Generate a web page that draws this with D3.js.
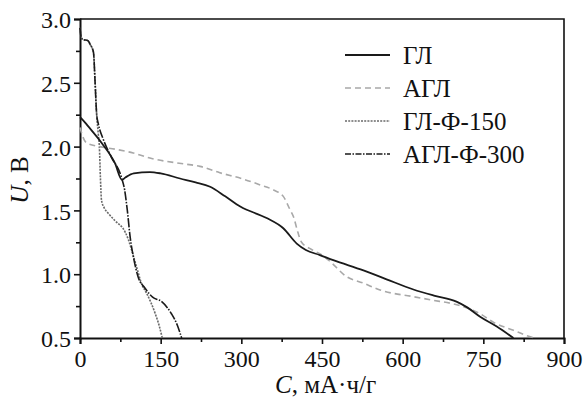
<!DOCTYPE html>
<html>
<head>
<meta charset="utf-8">
<script src="https://cdn.jsdelivr.net/npm/d3@7"></script>
<style>
  body { margin: 0; background: #fff; }
</style>
</head>
<body>
<div id="chart"></div>
<script>
// discharge curves: [C, mAh/g ; U, V]
const glData = [[0, 2.23], [5, 2.21], [15, 2.16], [40, 2.03], [65, 1.87], [78, 1.74], [85, 1.76], [100, 1.79],
  [130, 1.80], [150, 1.79], [186, 1.75], [215, 1.72], [242, 1.685], [270, 1.61], [298, 1.53], [347, 1.44],
  [378, 1.36], [403, 1.24], [420, 1.19], [446, 1.15], [471, 1.11], [527, 1.03], [570, 0.96], [620, 0.88],
  [660, 0.83], [700, 0.785], [720, 0.74], [744, 0.667], [775, 0.59], [806, 0.5]];
const aglData = [[0, 2.15], [5, 2.08], [12, 2.03], [37, 2.0], [65, 1.98], [99, 1.95], [130, 1.91], [192, 1.865],
  [223, 1.845], [260, 1.795], [300, 1.75], [335, 1.70], [360, 1.66], [378, 1.61], [390, 1.51], [397, 1.45],
  [405, 1.33], [412, 1.25], [428, 1.20], [450, 1.15], [465, 1.10], [496, 0.98], [527, 0.93], [558, 0.876],
  [620, 0.824], [651, 0.80], [713, 0.745], [744, 0.69], [770, 0.62], [806, 0.56], [830, 0.52], [845, 0.5]];
const glF150Data = [[0, 2.93], [2, 2.86], [5, 2.84], [15, 2.83], [19, 2.80], [25, 2.74], [28, 2.51], [31, 2.25],
  [34, 2.10], [36, 2.0], [38, 1.75], [40, 1.58], [45, 1.52], [52, 1.48], [65, 1.42], [84, 1.33], [90, 1.27],
  [96, 1.19], [105, 1.06], [115, 0.92], [124, 0.85], [140, 0.69], [147, 0.6], [153, 0.5]];
const aglF300Data = [[0, 2.93], [2, 2.86], [5, 2.84], [15, 2.83], [19, 2.80], [25, 2.74], [28, 2.51], [31, 2.25],
  [34, 2.18], [43, 2.06], [58, 1.92], [77, 1.76], [83, 1.66], [88, 1.50], [93, 1.30], [100, 1.12], [108, 0.98],
  [121, 0.89], [135, 0.82], [152, 0.785], [170, 0.69], [181, 0.6], [189, 0.5]];

const seriesNames = ['ГЛ', 'АГЛ', 'ГЛ-Ф-150', 'АГЛ-Ф-300'];
const xTicks = [0, 150, 300, 450, 600, 750, 900];
const yTicks = [0.5, 1.0, 1.5, 2.0, 2.5, 3.0];

const FONT = '"Liberation Serif", "Times New Roman"';
const width = 587, height = 401;
const margin = {top: 19, right: 23, bottom: 63, left: 80};

const svg = d3.select('#chart').append('svg')
  .attr('width', width)
  .attr('height', height)
  .attr('font-family', FONT);

const x = d3.scaleLinear().domain([0, 900]).range([margin.left, width - margin.right]);
const y = d3.scaleLinear().domain([0.5, 3.0]).range([height - margin.bottom, margin.top]);

// frame top / right
svg.append('path')
  .attr('d', `M${x(0)},${y(3)}H${x(900)}V${y(0.5)}`)
  .attr('fill', 'none')
  .attr('stroke', '#111')
  .attr('stroke-width', 1.6);

// minor ticks
const xMinor = d3.range(75, 900, 150);
const yMinor = d3.range(0.75, 3.0, 0.5);

svg.append('g')
  .attr('transform', `translate(0,${y(0.5)})`)
  .call(d3.axisBottom(x).tickValues(xTicks).tickFormat(d3.format('d')).tickSize(6).tickPadding(6));
svg.append('g')
  .attr('transform', `translate(0,${y(0.5)})`)
  .call(d3.axisBottom(x).tickValues(xMinor).tickFormat('').tickSize(4))
  .call(g => g.select('.domain').remove());

const yAxis = svg.append('g')
  .attr('transform', `translate(${x(0)},0)`)
  .call(d3.axisLeft(y).tickValues(yTicks).tickFormat(d3.format('.1f')).tickSize(6).tickPadding(3));
svg.append('g')
  .attr('transform', `translate(${x(0)},0)`)
  .call(d3.axisLeft(y).tickValues(yMinor).tickFormat('').tickSize(4))
  .call(g => g.select('.domain').remove());

svg.selectAll('g').attr('font-family', FONT);
svg.selectAll('.domain').attr('stroke', '#111').attr('stroke-width', 2);
svg.selectAll('.tick line').attr('stroke', '#111').attr('stroke-width', 1.6);
svg.selectAll('.tick text')
  .style('font-family', FONT)
  .style('font-size', '24px')
  .attr('fill', '#111');
yAxis.selectAll('.tick text').attr('dy', '0.36em');

// curves
const line = d3.line()
  .x(d => x(d[0]))
  .y(d => y(d[1]))
  .curve(d3.curveMonotoneX);

const styles = [
  {data: glData, color: '#1a1a1a', width: 1.8, dash: null},
  {data: aglData, color: '#a8a8a8', width: 1.6, dash: '6,4'},
  {data: glF150Data, color: '#6a6a6a', width: 1.6, dash: '2,1.2'},
  {data: aglF300Data, color: '#1a1a1a', width: 1.6, dash: '9,1.5,1.5,1.5'}
];

// draw short curves first, long ones on top
[2, 3, 1, 0].forEach(i => {
  const s = styles[i];
  svg.append('path')
    .datum(s.data)
    .attr('fill', 'none')
    .attr('stroke', s.color)
    .attr('stroke-width', s.width)
    .attr('stroke-dasharray', s.dash)
    .attr('d', line);
});

// legend
const legend = svg.append('g').attr('transform', 'translate(345,55)');
seriesNames.forEach((name, i) => {
  const s = styles[i];
  const row = legend.append('g').attr('transform', `translate(0,${i * 33})`);
  row.append('line')
    .attr('x1', 0).attr('x2', 45)
    .attr('stroke', s.color)
    .attr('stroke-width', s.width)
    .attr('stroke-dasharray', i === 3 ? '6,1.5,1.5,1.5' : s.dash);
  row.append('text')
    .attr('x', 58)
    .attr('dy', '0.35em')
    .attr('fill', '#111')
    .style('font-family', FONT)
    .style('font-size', '25px')
    .text(name);
});

// axis titles
svg.append('text')
  .attr('x', 275)
  .attr('y', 393)
  .attr('fill', '#111')
  .style('font-family', FONT)
  .style('font-size', '25px')
  .html('<tspan font-style="italic">C</tspan>, мА·ч/г');

svg.append('text')
  .attr('transform', 'translate(28,180) rotate(-90)')
  .attr('text-anchor', 'middle')
  .attr('fill', '#111')
  .style('font-family', FONT)
  .style('font-size', '25px')
  .html('<tspan font-style="italic">U</tspan>, В');
</script>
</body>
</html>
